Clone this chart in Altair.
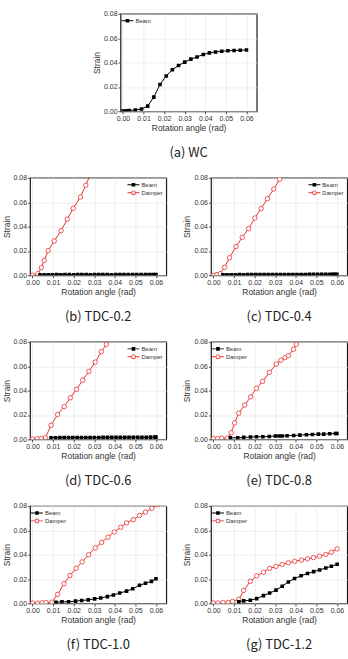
import altair as alt
import pandas as pd

# ---------------- data (rotation angle in rad, strain) ----------------
# (a) WC
WC_X = [0.0, 0.0015, 0.003, 0.006, 0.009, 0.012, 0.015, 0.018, 0.021, 0.024, 0.027,
        0.030, 0.033, 0.036, 0.039, 0.042, 0.045, 0.048, 0.051, 0.054, 0.057, 0.060]
WC_BEAM = [0.0002, 0.0004, 0.0006, 0.0010, 0.0018, 0.0042, 0.0116, 0.0220, 0.0290, 0.0340, 0.0376,
           0.0403, 0.0428, 0.0446, 0.0466, 0.0479, 0.0487, 0.0493, 0.0496, 0.0499, 0.0501, 0.0503]

# (b) TDC-0.2
B_BEAM_X = [0.0036, 0.0057, 0.0077, 0.0097, 0.0118, 0.0138, 0.0158, 0.0179, 0.0200, 0.0220,
            0.0240, 0.0261, 0.0281, 0.0302, 0.0322, 0.0342, 0.0363, 0.0384, 0.0405, 0.0425,
            0.0445, 0.0466, 0.0487, 0.0507, 0.0528, 0.0549, 0.0568, 0.0586, 0.0600]
B_BEAM = [0.0004, 0.0005, 0.0005, 0.0005, 0.0006, 0.0005, 0.0006, 0.0006, 0.0005, 0.0006,
          0.0006, 0.0006, 0.0005, 0.0006, 0.0006, 0.0006, 0.0006, 0.0005, 0.0006, 0.0006,
          0.0006, 0.0006, 0.0006, 0.0006, 0.0006, 0.0006, 0.0006, 0.0006, 0.0006]
B_DAMPER_X = [0.0, 0.0026, 0.0043, 0.0057, 0.0076, 0.0106, 0.0139, 0.0169, 0.0198, 0.0233, 0.0259, 0.0290]
B_DAMPER = [0.0, 0.0014, 0.0063, 0.0122, 0.0203, 0.0282, 0.0366, 0.0461, 0.0550, 0.0643, 0.0740, 0.0860]

# (c) TDC-0.4
C_BEAM_X = [0.0046, 0.0066, 0.0086, 0.0106, 0.0126, 0.0146, 0.0166, 0.0186, 0.0206, 0.0226,
            0.0246, 0.0266, 0.0286, 0.0306, 0.0326, 0.0346, 0.0366, 0.0386, 0.0406, 0.0426,
            0.0446, 0.0466, 0.0486, 0.0506, 0.0526, 0.0546, 0.0566, 0.0580, 0.0590, 0.0600]
C_BEAM = [0.0005, 0.0005, 0.0005, 0.0005, 0.0006, 0.0005, 0.0006, 0.0006, 0.0006, 0.0006,
          0.0006, 0.0006, 0.0006, 0.0007, 0.0007, 0.0007, 0.0007, 0.0007, 0.0007, 0.0007,
          0.0007, 0.0008, 0.0008, 0.0008, 0.0008, 0.0008, 0.0009, 0.0009, 0.0009, 0.0009]
C_DAMPER_X = [0.0, 0.0017, 0.0033, 0.0054, 0.0078, 0.0110, 0.0140, 0.0171, 0.0201, 0.0232,
              0.0262, 0.0293, 0.0322, 0.0352]
C_DAMPER = [0.0, 0.0006, 0.0014, 0.0065, 0.0144, 0.0236, 0.0312, 0.0383, 0.0470, 0.0548,
            0.0629, 0.0708, 0.0789, 0.0865]

# (d) TDC-0.6
D_BEAM_X = [0.0090, 0.0112, 0.0133, 0.0154, 0.0175, 0.0196, 0.0217, 0.0238, 0.0259, 0.0280,
            0.0301, 0.0322, 0.0343, 0.0364, 0.0385, 0.0406, 0.0427, 0.0448, 0.0469, 0.0490,
            0.0511, 0.0532, 0.0553, 0.0574, 0.0595, 0.0600]
D_BEAM = [0.0013, 0.0013, 0.0014, 0.0014, 0.0014, 0.0014, 0.0015, 0.0015, 0.0015, 0.0015,
          0.0015, 0.0015, 0.0016, 0.0016, 0.0016, 0.0016, 0.0016, 0.0016, 0.0017, 0.0017,
          0.0017, 0.0017, 0.0017, 0.0018, 0.0018, 0.0018]
D_DAMPER_X = [0.0, 0.0023, 0.0042, 0.0063, 0.0090, 0.0122, 0.0154, 0.0184, 0.0214, 0.0244,
              0.0274, 0.0305, 0.0335, 0.0359, 0.0390]
D_DAMPER = [0.0002, 0.0006, 0.0006, 0.0014, 0.0115, 0.0204, 0.0269, 0.0341, 0.0411, 0.0486,
            0.0558, 0.0634, 0.0720, 0.0779, 0.0855]

# (e) TDC-0.8
E_BEAM_X = [0.0082, 0.0118, 0.0147, 0.0180, 0.0209, 0.0240, 0.0271, 0.0301, 0.0319, 0.0334,
            0.0358, 0.0390, 0.0420, 0.0452, 0.0481, 0.0510, 0.0536, 0.0565, 0.0593, 0.0600]
E_BEAM = [0.0013, 0.0013, 0.0016, 0.0019, 0.0021, 0.0021, 0.0024, 0.0027, 0.0027, 0.0027,
          0.0030, 0.0032, 0.0035, 0.0038, 0.0040, 0.0043, 0.0043, 0.0046, 0.0048, 0.0048]
E_DAMPER_X = [0.0, 0.0020, 0.0040, 0.0068, 0.0086, 0.0103, 0.0123, 0.0152, 0.0181, 0.0209,
              0.0239, 0.0272, 0.0306, 0.0328, 0.0348, 0.0364, 0.0389, 0.0403, 0.0430]
E_DAMPER = [0.0006, 0.0006, 0.0010, 0.0010, 0.0054, 0.0135, 0.0215, 0.0282, 0.0349, 0.0419,
            0.0476, 0.0550, 0.0618, 0.0650, 0.0671, 0.0687, 0.0739, 0.0780, 0.0845]

# (f) TDC-1.0
F_BEAM_X = [0.0114, 0.0143, 0.0175, 0.0209, 0.0239, 0.0271, 0.0302, 0.0332, 0.0364, 0.0393,
            0.0424, 0.0457, 0.0487, 0.0520, 0.0549, 0.0578, 0.0600]
F_BEAM = [0.0010, 0.0013, 0.0013, 0.0019, 0.0024, 0.0029, 0.0037, 0.0045, 0.0056, 0.0069,
          0.0085, 0.0101, 0.0120, 0.0149, 0.0165, 0.0181, 0.0202]
F_DAMPER_X = [0.0, 0.0025, 0.0047, 0.0065, 0.0094, 0.0122, 0.0153, 0.0182, 0.0212, 0.0241,
              0.0273, 0.0305, 0.0336, 0.0367, 0.0397, 0.0429, 0.0457, 0.0490, 0.0520, 0.0549,
              0.0580, 0.0612]
F_DAMPER = [0.0002, 0.0002, 0.0005, 0.0008, 0.0010, 0.0074, 0.0162, 0.0229, 0.0288, 0.0341,
            0.0400, 0.0456, 0.0501, 0.0544, 0.0586, 0.0626, 0.0661, 0.0688, 0.0722, 0.0749,
            0.0781, 0.0812]

# (g) TDC-1.2
G_BEAM_X = [0.0123, 0.0147, 0.0179, 0.0210, 0.0243, 0.0273, 0.0304, 0.0334, 0.0364, 0.0394,
            0.0426, 0.0457, 0.0487, 0.0516, 0.0546, 0.0573, 0.0601]
G_BEAM = [0.0013, 0.0021, 0.0026, 0.0039, 0.0064, 0.0085, 0.0109, 0.0141, 0.0176, 0.0205,
          0.0227, 0.0245, 0.0261, 0.0275, 0.0291, 0.0305, 0.0321]
G_DAMPER_X = [0.0, 0.0022, 0.0047, 0.0071, 0.0093, 0.0123, 0.0147, 0.0179, 0.0210, 0.0243,
              0.0273, 0.0304, 0.0334, 0.0364, 0.0395, 0.0428, 0.0457, 0.0486, 0.0515, 0.0546,
              0.0573, 0.0601]
G_DAMPER = [0.0003, 0.0003, 0.0008, 0.0008, 0.0016, 0.0034, 0.0106, 0.0181, 0.0226, 0.0256,
            0.0288, 0.0304, 0.0320, 0.0333, 0.0346, 0.0356, 0.0366, 0.0376, 0.0388, 0.0402,
            0.0420, 0.0448]

X_TICKS = [0.0, 0.01, 0.02, 0.03, 0.04, 0.05, 0.06]
Y_TICKS = [0.0, 0.02, 0.04, 0.06, 0.08]
SERIES = ["Beam", "Damper"]

# ---------------- styling ----------------
RED = "#e8312f"
FONT = "Liberation Sans"
CAPTION_FONT = "Noto Sans CJK KR"
PANEL_W, PANEL_H = 137, 98

# legend glyphs: a short line with the marker on it (filled shapes, nonzero winding)
BEAM_GLYPH = "M-1.5,-0.12H1.5V0.12H-1.5Z M-0.45,-0.45H0.45V0.45H-0.45Z"
DAMPER_GLYPH = ("M-1.5,-0.12H-0.5V0.12H-1.5Z M0.5,-0.12H1.5V0.12H0.5Z "
                "M0.6,0A0.6,0.6 0 1,1 -0.6,0A0.6,0.6 0 1,1 0.6,0Z "
                "M0.38,0A0.38,0.38 0 1,0 -0.38,0A0.38,0.38 0 1,0 0.38,0Z")
STYLE = {"Beam": ("black", BEAM_GLYPH), "Damper": (RED, DAMPER_GLYPH)}


def xy(xtitle):
    x = alt.X("x:Q", title=xtitle,
              scale=alt.Scale(domain=[-0.0012, 0.065], nice=False, zero=False),
              axis=alt.Axis(values=X_TICKS, format=".2f", labelFlush=False))
    y = alt.Y("y:Q", title="Strain",
              scale=alt.Scale(domain=[0, 0.08], nice=False),
              axis=alt.Axis(values=Y_TICKS, format=".2f", labelFlush=False))
    return x, y


def panel(caption, xtitle, series, legend_orient):
    x, y = xy(xtitle)
    layers = []
    for name, xs, ys in series:
        df = pd.DataFrame({"x": xs, "y": ys})
        color = STYLE[name][0]
        layers.append(alt.Chart(df).mark_line(color=color, strokeWidth=1, clip=True)
                      .encode(x=x, y=y))
        if name == "Beam":
            pts = alt.Chart(df).mark_point(shape="square", filled=True, color="black",
                                           size=13, opacity=1, clip=True)
        else:
            pts = alt.Chart(df).mark_point(shape="circle", filled=False, color=RED, fill="white",
                                           fillOpacity=1, size=20, strokeWidth=0.8,
                                           opacity=1, clip=True)
        layers.append(pts.encode(x=x, y=y))

    names = [s[0] for s in series]
    names = [n for n in SERIES if n in names]
    leg = alt.Legend(title=None, orient=legend_orient, offset=3, padding=0,
                     labelFont=FONT, labelFontSize=6, labelColor="#333",
                     symbolSize=64, symbolStrokeWidth=0, symbolOpacity=1,
                     labelOffset=4, rowPadding=1)
    key_df = pd.DataFrame({"x": [0.0] * len(names), "y": [0.0] * len(names), "series": names})
    key = alt.Chart(key_df).transform_filter("datum.x > 1").mark_point(filled=True, opacity=1).encode(
        x=x, y=y,
        color=alt.Color("series:N", legend=leg,
                        scale=alt.Scale(domain=names, range=[STYLE[n][0] for n in names])),
        shape=alt.Shape("series:N", legend=leg,
                        scale=alt.Scale(domain=names, range=[STYLE[n][1] for n in names])),
    )
    layers.append(key)
    return alt.layer(*layers).properties(
        width=PANEL_W, height=PANEL_H,
        title=alt.TitleParams(caption, orient="bottom", anchor="middle", font=CAPTION_FONT,
                              fontSize=13, fontWeight="normal", color="#222", offset=15),
    )


ROT = "Rotation angle (rad)"
pa = panel("(a) WC", ROT, [("Beam", WC_X, WC_BEAM)], "top-left")
pb = panel("(b) TDC-0.2", ROT, [("Damper", B_DAMPER_X, B_DAMPER), ("Beam", B_BEAM_X, B_BEAM)], "top-right")
pc = panel("(c) TDC-0.4", ROT, [("Damper", C_DAMPER_X, C_DAMPER), ("Beam", C_BEAM_X, C_BEAM)], "top-right")
pd_ = panel("(d) TDC-0.6", ROT, [("Damper", D_DAMPER_X, D_DAMPER), ("Beam", D_BEAM_X, D_BEAM)], "top-right")
pe = panel("(e) TDC-0.8", "Rotaion angle (rad)", [("Damper", E_DAMPER_X, E_DAMPER), ("Beam", E_BEAM_X, E_BEAM)], "top-left")
pf = panel("(f) TDC-1.0", ROT, [("Damper", F_DAMPER_X, F_DAMPER), ("Beam", F_BEAM_X, F_BEAM)], "top-left")
pg = panel("(g) TDC-1.2", ROT, [("Damper", G_DAMPER_X, G_DAMPER), ("Beam", G_BEAM_X, G_BEAM)], "top-left")


def row(left, right):
    return (alt.hconcat(left, right, spacing=15)
            .resolve_scale(color="independent", shape="independent")
            .resolve_legend(color="independent", shape="independent"))


chart = (
    alt.vconcat(pa, row(pb, pc), row(pd_, pe), row(pf, pg), spacing=12, center=True)
    .resolve_scale(color="independent", shape="independent")
    .resolve_legend(color="independent", shape="independent")
    .properties(padding={"left": 1, "top": 7, "right": 0, "bottom": 0}, background="white")
    .configure_view(stroke="#1a1a1a", strokeWidth=1.2)
    .configure_axis(labelFont=FONT, labelFontSize=7, labelColor="#333",
                    titleFont=FONT, titleFontSize=8.5, titleColor="#333", titleFontWeight="normal",
                    gridColor="#e6e6e6", gridWidth=0.7, domain=False,
                    tickColor="#222", tickSize=2.5, tickWidth=0.8,
                    labelPadding=1, titlePadding=2)
)

chart.save("out.html", embed_options={"renderer": "svg", "actions": False})
